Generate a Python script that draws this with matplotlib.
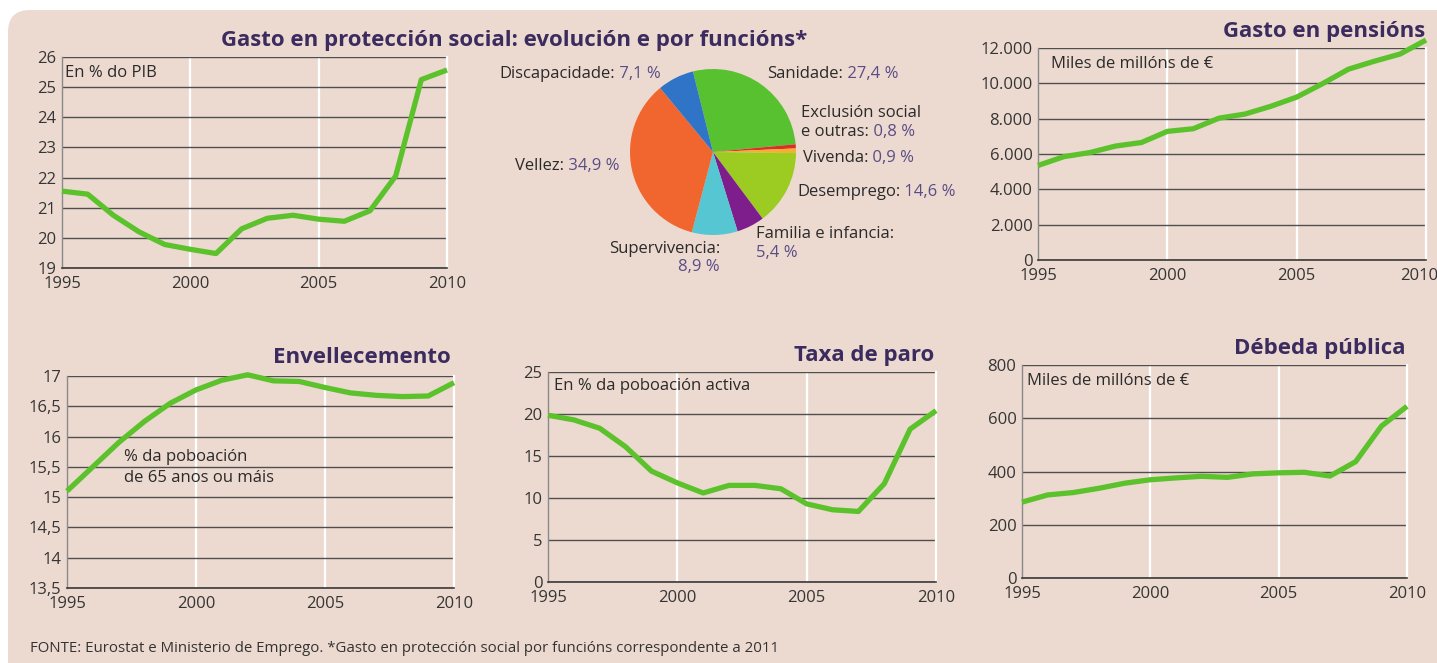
import matplotlib
matplotlib.use("Agg")
import matplotlib.pyplot as plt
import matplotlib.transforms as mtransforms
from matplotlib.patches import FancyBboxPatch

plt.rcParams['font.family'] = ['Open Sans', 'DejaVu Sans']

# ---------------- data ----------------
years = list(range(1995, 2011))

gasto_pib = [21.55, 21.45, 20.75, 20.2, 19.78, 19.62, 19.48, 20.3, 20.65,
             20.75, 20.62, 20.55, 20.9, 22.05, 25.25, 25.57]
pensions = [5350, 5850, 6080, 6450, 6650, 7280, 7430, 8030, 8260,
            8700, 9220, 9980, 10800, 11250, 11660, 12450]
envellecemento = [15.1, 15.5, 15.9, 16.25, 16.55, 16.77, 16.93, 17.02, 16.92,
                  16.91, 16.81, 16.72, 16.68, 16.66, 16.67, 16.89]
paro = [19.85, 19.3, 18.3, 16.1, 13.2, 11.8, 10.6, 11.5, 11.5,
        11.1, 9.3, 8.6, 8.4, 11.7, 18.2, 20.4]
debeda = [285, 312, 321, 337, 356, 369, 376, 382, 378,
          391, 395, 397, 383, 437, 570, 645]

pie_names = ['Sanidade', 'Exclusión social e outras', 'Vivenda', 'Desemprego',
             'Familia e infancia', 'Supervivencia', 'Vellez', 'Discapacidade']
pie_values = [27.4, 0.8, 0.9, 14.6, 5.4, 8.9, 34.9, 7.1]
pie_colors = ['#58c12f', '#d8302a', '#f6b030', '#9ccb22',
              '#7d1e8c', '#55c6d2', '#f0662e', '#2f74c6']

x_ticks = [1995, 2000, 2005, 2010]
x_ticklabels = ['1995', '2000', '2005', '2010']

pib_ticks = [19, 20, 21, 22, 23, 24, 25, 26]
pib_ticklabels = ['19', '20', '21', '22', '23', '24', '25', '26']
pens_ticks = [0, 2000, 4000, 6000, 8000, 10000, 12000]
pens_ticklabels = ['0', '2.000', '4.000', '6.000', '8.000', '10.000', '12.000']
env_ticks = [13.5, 14, 14.5, 15, 15.5, 16, 16.5, 17]
env_ticklabels = ['13,5', '14', '14,5', '15', '15,5', '16', '16,5', '17']
paro_ticks = [0, 5, 10, 15, 20, 25]
paro_ticklabels = ['0', '5', '10', '15', '20', '25']
deb_ticks = [0, 200, 400, 600, 800]
deb_ticklabels = ['0', '200', '400', '600', '800']

# ---------------- style ----------------
W, H = 1437, 663
BG = '#ecdad0'
LINE_GREEN = '#5cc22c'
TITLE_COL = '#3b2b5e'
TEXT_COL = '#2a2a2a'
VALUE_COL = '#5a4c86'
GRID_COL = '#4f4f4f'
FS = 12

fig = plt.figure(figsize=(W / 100, H / 100), dpi=100)
fig.patch.set_facecolor('white')

# paper panel with rounded top-left corner
bg_ax = fig.add_axes([0, 0, 1, 1], zorder=-10)
bg_ax.set_xlim(0, W)
bg_ax.set_ylim(H, 0)
bg_ax.axis('off')
bg_ax.add_patch(FancyBboxPatch((8, 10), W + 40, H + 40,
                               boxstyle='round,pad=0,rounding_size=22',
                               facecolor=BG, edgecolor='none'))


def px_axes(x0, y0, x1, y1, **kw):
    return fig.add_axes([x0 / W, 1 - y1 / H, (x1 - x0) / W, (y1 - y0) / H], **kw)


def line_panel(rect, values, ticks, ticklabels):
    ax = px_axes(*rect)
    ax.set_facecolor('none')
    ax.set_xlim(1995, 2010)
    ax.set_ylim(ticks[0], ticks[-1])
    for t in ticks:
        ax.axhline(t, color=GRID_COL, lw=1.0, zorder=1)
    for xv in (2000, 2005):
        ax.axvline(xv, color='white', lw=1.6, zorder=0.5)
    ax.spines['top'].set_visible(False)
    ax.spines['right'].set_color('white')
    ax.spines['right'].set_linewidth(1.6)
    ax.spines['left'].set_color('#8a8a8a')
    ax.spines['left'].set_linewidth(1.0)
    ax.spines['bottom'].set_color('#3a3a3a')
    ax.spines['bottom'].set_linewidth(1.2)
    ax.set_xticks(x_ticks)
    ax.set_xticklabels(x_ticklabels)
    ax.set_yticks(ticks)
    ax.set_yticklabels(ticklabels)
    ax.tick_params(axis='both', length=0, labelsize=FS, labelcolor='#353535')
    ax.tick_params(axis='x', pad=6)
    ax.tick_params(axis='y', pad=4)
    ax.plot(years, values, color=LINE_GREEN, lw=3.8, solid_joinstyle='round',
            solid_capstyle='butt', clip_on=False, zorder=3)
    return ax


line_panel((62, 57, 447, 268), gasto_pib, pib_ticks, pib_ticklabels)
ax_pens = line_panel((1038, 48, 1426, 260), pensions, pens_ticks, pens_ticklabels)
line_panel((67, 376, 454, 588), envellecemento, env_ticks, env_ticklabels)
line_panel((548, 372, 936, 582), paro, paro_ticks, paro_ticklabels)
line_panel((1022, 365, 1407, 578), debeda, deb_ticks, deb_ticklabels)

# last year label of the pensions panel sits a little inside the page edge
last = ax_pens.get_xticklabels()[-1]
last.set_transform(last.get_transform() +
                   mtransforms.ScaledTranslation(-7 / 100, 0, fig.dpi_scale_trans))

# pie of spending by function
pie_ax = px_axes(630, 69, 796, 235)
pie_ax.pie(pie_values, colors=pie_colors, startangle=104, counterclock=False,
           wedgeprops=dict(linewidth=0))
pie_ax.set_xlim(-1.0, 1.0)
pie_ax.set_ylim(-1.0, 1.0)
pie_ax.set_aspect('equal')
pie_ax.axis('off')

# text layer in pixel coordinates
ov = fig.add_axes([0, 0, 1, 1], zorder=20)
ov.set_xlim(0, W)
ov.set_ylim(H, 0)
ov.axis('off')


def title(x, y, s, ha='right'):
    ov.text(x, y, s, ha=ha, va='baseline', fontsize=16, fontweight='bold',
            color=TITLE_COL)


def note(x, y, s, ha='left'):
    ov.text(x, y, s, ha=ha, va='baseline', fontsize=FS, color=TEXT_COL)


def two_tone(x, y, name, value):
    t = ov.text(x, y, name, ha='left', va='baseline', fontsize=FS, color=TEXT_COL)
    ov.annotate(' ' + value, xy=(1, 0), xycoords=t, ha='left', va='bottom',
                fontsize=FS, color=VALUE_COL)


title(514, 46, 'Gasto en protección social: evolución e por funcións*', ha='center')
title(1425, 37, 'Gasto en pensións')
title(451, 363, 'Envellecemento')
title(934, 361, 'Taxa de paro')
title(1405, 354, 'Débeda pública')

note(65, 77, 'En % do PIB')
note(1051, 68, 'Miles de millóns de €')
note(124, 461, '% da poboación')
note(124, 482, 'de 65 anos ou máis')
note(554, 390, 'En % da poboación activa')
note(1027, 385, 'Miles de millóns de €')


def pct(v):
    return f'{v:.1f}'.replace('.', ',') + ' %'


two_tone(499, 78, 'Discapacidade:', pct(pie_values[7]))
two_tone(767, 78, 'Sanidade:', pct(pie_values[0]))
note(801, 117, 'Exclusión social')
two_tone(801, 136, 'e outras:', pct(pie_values[1]))
two_tone(803, 162, 'Vivenda:', pct(pie_values[2]))
two_tone(797, 196, 'Desemprego:', pct(pie_values[3]))
note(756, 238, 'Familia e infancia:')
ov.text(756, 257, pct(pie_values[4]), ha='left', va='baseline', fontsize=FS,
        color=VALUE_COL)
note(720, 253, 'Supervivencia:', ha='right')
ov.text(720, 271, pct(pie_values[5]), ha='right', va='baseline', fontsize=FS,
        color=VALUE_COL)
two_tone(515, 170, 'Vellez:', pct(pie_values[6]))

ov.text(30, 652, 'FONTE: Eurostat e Ministerio de Emprego. *Gasto en protección social '
        'por funcións correspondente a 2011', ha='left', va='baseline',
        fontsize=10.8, color='#333333')

fig.savefig('out.png', dpi=100, facecolor=fig.get_facecolor())
